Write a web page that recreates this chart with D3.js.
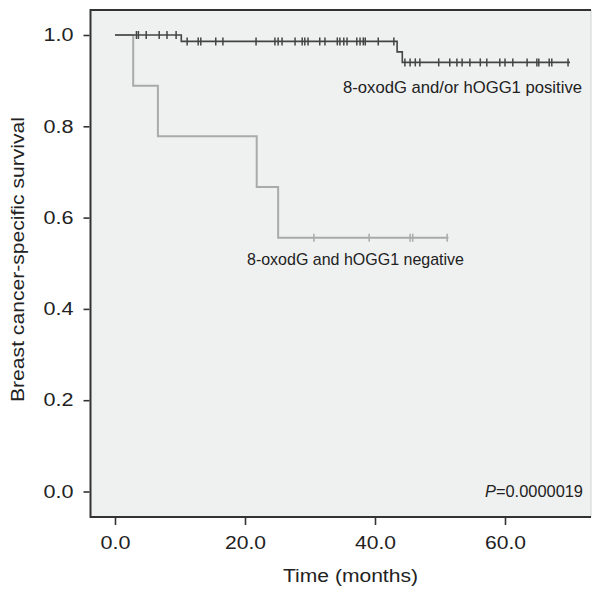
<!DOCTYPE html>
<html>
<head>
<meta charset="utf-8">
<script src="https://d3js.org/d3.v7.min.js"></script>
<style>
  body { margin: 0; background: #fff; }
  text { font-family: "Liberation Sans", Arial, sans-serif; fill: #222; }
</style>
</head>
<body>
<div id="chart"></div>
<script>

// Kaplan-Meier steps: [time, survival after the drop]
const posSteps = [[0, 1.0], [10.2, 0.986], [43.4, 0.963], [44.2, 0.940]];
const posEnd = 70.0;
const posCensor = [
  3.3, 3.6, 4.8, 6.8, 8.0, 9.4,
  11.1, 12.8, 13.2, 15.5, 16.6, 21.7, 24.6, 25.1, 25.7, 27.7, 28.8, 29.2, 29.7,
  31.5, 32.3, 34.2, 34.6, 35.2, 35.7, 37.2, 37.7, 38.2, 38.5, 40.5, 42.9,
  44.6, 45.4, 46.2, 46.9, 49.8, 51.5, 52.6, 53.4, 54.6, 56.2, 57.2, 59.2, 60.0,
  61.2, 63.4, 64.9, 65.2, 66.8, 67.2, 69.7
];

const negSteps = [[0, 1.0], [2.8, 0.889], [6.6, 0.778], [21.8, 0.667], [25.1, 0.556]];
const negEnd = 51.3;
const negCensor = [30.6, 39.1, 45.4, 45.8, 51.1];

const xTicks = [0, 20, 40, 60];
const yTicks = [0, 0.2, 0.4, 0.6, 0.8, 1.0];

const W = 592, H = 589;
const box = {left: 90.5, top: 10, right: 591, bottom: 517};

const svg = d3.select("#chart").append("svg")
  .attr("width", W).attr("height", H);

const x = d3.scaleLinear().domain([0, 60]).range([115, 505]);
const y = d3.scaleLinear().domain([0, 1]).range([491.5, 35]);

// stretch text horizontally to the widths seen in the picture
function fit(sel, w) {
  sel.attr("textLength", w).attr("lengthAdjust", "spacingAndGlyphs");
}

// panel background + frame
svg.append("rect")
  .attr("x", box.left).attr("y", box.top)
  .attr("width", box.right - box.left).attr("height", box.bottom - box.top)
  .attr("fill", "#eff1f1").attr("stroke", "#cfd2d2").attr("stroke-width", 1);
svg.append("path")
  .attr("d", `M${box.right},${box.top}H${box.left}V${box.bottom}H${box.right}`)
  .attr("fill", "none").attr("stroke", "#333").attr("stroke-width", 2);

// axes
const yAxis = svg.append("g")
  .attr("transform", `translate(${box.left - 1},0)`)
  .call(d3.axisLeft(y).tickValues(yTicks).tickFormat(d3.format(".1f")).tickSize(6).tickPadding(10));
const xAxis = svg.append("g")
  .attr("transform", `translate(0,${box.bottom + 1})`)
  .call(d3.axisBottom(x).tickValues(xTicks).tickFormat(d3.format(".1f")).tickSize(7).tickPadding(11));
[yAxis, xAxis].forEach(g => {
  g.select(".domain").remove();
  g.selectAll("line").attr("stroke", "#333").attr("stroke-width", 1.6);
  g.selectAll("text").attr("font-size", 18).attr("fill", "#222")
    .style("font-family", '"Liberation Sans", Arial, sans-serif')
    .each(function(d) { fit(d3.select(this), d >= 10 ? 41 : 30); });
});

function kmPath(steps, end) {
  let d = `M${x(steps[0][0])},${y(steps[0][1])}`;
  for (let i = 1; i < steps.length; i++) {
    d += `H${x(steps[i][0])}V${y(steps[i][1])}`;
  }
  return d + `H${x(end)}`;
}
function survAt(steps, t) {
  let s = steps[0][1];
  steps.forEach(p => { if (t >= p[0]) s = p[1]; });
  return s;
}

function drawCurve(steps, end, censor, color, w) {
  svg.append("path").attr("d", kmPath(steps, end))
    .attr("fill", "none").attr("stroke", color).attr("stroke-width", w);
  svg.append("g").selectAll("line").data(censor).enter().append("line")
    .attr("x1", d => x(d)).attr("x2", d => x(d))
    .attr("y1", d => y(survAt(steps, d)) - 4)
    .attr("y2", d => y(survAt(steps, d)) + 4)
    .attr("stroke", color).attr("stroke-width", 1.5);
}

drawCurve(negSteps, negEnd, negCensor, "#a9abab", 2);
drawCurve(posSteps, posEnd, posCensor, "#444", 1.6);

// labels
svg.append("text").attr("x", 343).attr("y", 93)
  .attr("font-size", 17).text("8-oxodG and/or hOGG1 positive").call(fit, 239);
svg.append("text").attr("x", 247).attr("y", 265)
  .attr("font-size", 17).text("8-oxodG and hOGG1 negative").call(fit, 217);
const p = svg.append("text").attr("x", 485).attr("y", 497)
  .attr("font-size", 16);
p.append("tspan").attr("font-style", "italic").text("P");
p.append("tspan").text("=0.0000019");
fit(p, 98);

svg.append("text").attr("x", 283).attr("y", 582)
  .attr("font-size", 18).text("Time (months)").call(fit, 135);
svg.append("text").attr("transform", "translate(24,402) rotate(-90)")
  .attr("font-size", 18)
  .text("Breast cancer-specific survival").call(fit, 285);

</script>
</body>
</html>
